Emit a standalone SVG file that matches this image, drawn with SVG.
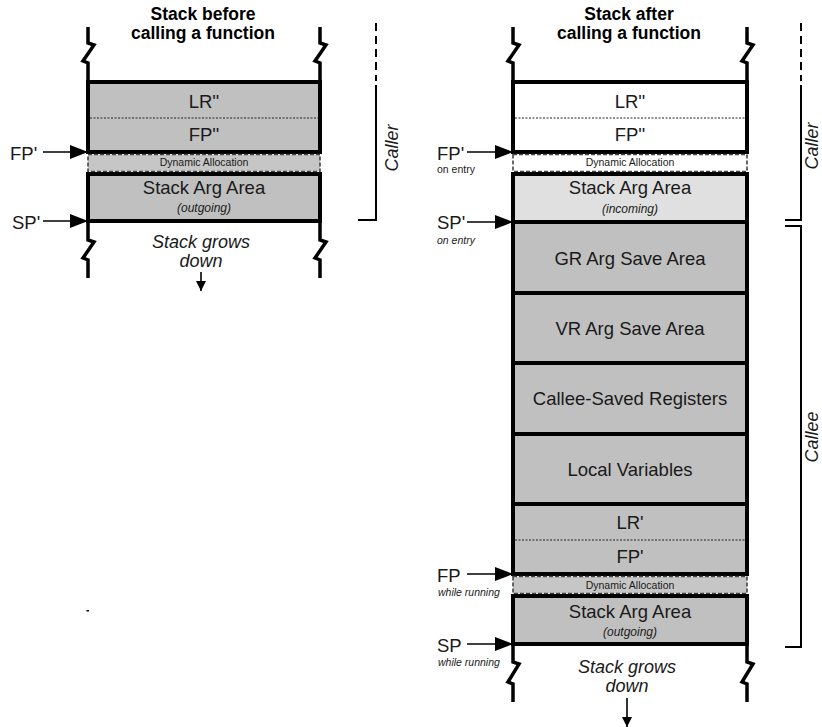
<svg xmlns="http://www.w3.org/2000/svg" width="822" height="727" viewBox="0 0 822 727">
<style>
text{font-family:"Liberation Sans",Arial,sans-serif;fill:#1a1a1a}
.title{font-size:17.5px;font-weight:bold;text-anchor:middle;fill:#000}
.lbl{font-size:18.5px;text-anchor:middle}
.sub{font-size:12px;font-style:italic;text-anchor:middle}
.da{font-size:10.5px;text-anchor:middle}
.ptr{font-size:18.5px}
.note{font-size:10.5px}
.it{font-style:italic}
.grow{font-size:18px;font-style:italic;text-anchor:middle}
.side{font-size:18px;font-style:italic;text-anchor:middle}
.blk{stroke:#000;stroke-width:4}
.g{fill:#c0c0c0}
.lg{fill:#e0e0e0}
.w{fill:#fff}
.dab{stroke:#444;stroke-width:1.6;stroke-dasharray:4 2}
.div{stroke:#222;stroke-width:1;stroke-dasharray:2 1.5;fill:none}
.wall{fill:none;stroke:#000;stroke-width:3.5}
.arr{stroke:#000;stroke-width:1.6;fill:none}
.brk{fill:none;stroke:#000;stroke-width:2}
.dash{stroke-dasharray:8 5}
</style>
<defs>
<marker id="ah" markerUnits="userSpaceOnUse" markerWidth="19" markerHeight="15" refX="18" refY="7" orient="auto">
<path d="M0,0 L18,7 L0,14 z" fill="#000"/>
</marker>
<marker id="dh" markerUnits="userSpaceOnUse" markerWidth="11" markerHeight="11" refX="10" refY="5" orient="auto">
<path d="M0,0 L10,5 L0,10 z" fill="#000"/>
</marker>
</defs>

<!-- LEFT STACK -->
<g id="left-title">
<text class="title" x="203" y="20">Stack before</text>
<text class="title" x="203" y="39">calling a function</text>
</g>
<g id="left-walls">
<path class="wall" d="M88,27 V43 L94,45 L83,61 L88,63 V82"/>
<path class="wall" d="M320,27 V43 L326,45 L315,61 L320,63 V82"/>
<path class="wall" d="M88,221 V240 L94,242 L83,258 L88,260 V278"/>
<path class="wall" d="M320,221 V240 L326,242 L315,258 L320,260 V278"/>
</g>
<g id="left-lr-fp">
<rect class="blk g" x="88" y="82" width="232" height="70"/>
<line class="div" x1="90" y1="118" x2="318" y2="118"/>
<text class="lbl" x="204" y="108">LR''</text>
<text class="lbl" x="204" y="141">FP''</text>
</g>
<g id="left-dyn">
<rect class="dab" fill="#c6c6c6" x="88" y="154.5" width="232" height="17"/>
<text class="da" x="204" y="166">Dynamic Allocation</text>
</g>
<g id="left-argarea">
<rect class="blk g" x="88" y="174" width="232" height="47"/>
<text class="lbl" x="204" y="194">Stack Arg Area</text>
<text class="sub" x="204" y="212">(outgoing)</text>
</g>
<g id="left-grows">
<text class="grow" x="201" y="248">Stack grows</text>
<text class="grow" x="201" y="267">down</text>
</g>
<g id="left-fp">
<text class="ptr" x="10" y="160">FP'</text>
</g>
<g id="left-sp">
<text class="ptr" x="12" y="229">SP'</text>
</g>
<g id="left-caller">
<text class="side" transform="translate(398,148) rotate(-90)">Caller</text>
</g>
<rect x="86.5" y="610" width="2.5" height="1.5" fill="#000"/>

<!-- RIGHT STACK -->
<g id="right-title">
<text class="title" x="629" y="20">Stack after</text>
<text class="title" x="629" y="39">calling a function</text>
</g>
<g id="right-walls">
<path class="wall" d="M513,27 V43 L519,45 L508,61 L513,63 V82"/>
<path class="wall" d="M747,27 V43 L753,45 L742,61 L747,63 V82"/>
<path class="wall" d="M513,644 V662 L519,664 L508,682 L513,684 V702"/>
<path class="wall" d="M747,644 V662 L753,664 L742,682 L747,684 V702"/>
</g>
<g id="right-lr-fp-caller">
<rect class="blk w" x="513" y="82" width="234" height="70"/>
<line class="div" x1="515" y1="118" x2="745" y2="118"/>
<text class="lbl" x="630" y="108">LR''</text>
<text class="lbl" x="630" y="141">FP''</text>
</g>
<g id="right-dyn-caller">
<rect class="dab w" x="513" y="154.5" width="234" height="17"/>
<text class="da" x="630" y="166">Dynamic Allocation</text>
</g>
<g id="right-arg-incoming">
<rect class="blk lg" x="513" y="174" width="234" height="48"/>
<text class="lbl" x="630" y="194">Stack Arg Area</text>
<text class="sub" x="630" y="213">(incoming)</text>
</g>
<g id="gr-save">
<rect class="blk g" x="513" y="222" width="234" height="71"/>
<text class="lbl" x="630" y="264.5">GR Arg Save Area</text>
</g>
<g id="vr-save">
<rect class="blk g" x="513" y="293" width="234" height="70"/>
<text class="lbl" x="630" y="334.5">VR Arg Save Area</text>
</g>
<g id="callee-saved">
<rect class="blk g" x="513" y="363" width="234" height="71"/>
<text class="lbl" x="630" y="405">Callee-Saved Registers</text>
</g>
<g id="local-vars">
<rect class="blk g" x="513" y="434" width="234" height="70"/>
<text class="lbl" x="630" y="475.5">Local Variables</text>
</g>
<g id="right-lr-fp-callee">
<rect class="blk g" x="513" y="504" width="234" height="70"/>
<line class="div" x1="515" y1="540" x2="745" y2="540"/>
<text class="lbl" x="630" y="529">LR'</text>
<text class="lbl" x="630" y="563">FP'</text>
</g>
<g id="right-dyn-callee">
<rect class="dab" fill="#c6c6c6" x="513" y="576.5" width="234" height="17"/>
<text class="da" x="630" y="588.5">Dynamic Allocation</text>
</g>
<g id="right-arg-outgoing">
<rect class="blk g" x="513" y="596" width="234" height="48"/>
<text class="lbl" x="630" y="618">Stack Arg Area</text>
<text class="sub" x="630" y="636">(outgoing)</text>
</g>
<g id="right-grows">
<text class="grow" x="627" y="673">Stack grows</text>
<text class="grow" x="627" y="692">down</text>
</g>
<g id="fp-entry">
<text class="ptr" x="437" y="160">FP'</text>
<text class="note" x="437" y="173">on entry</text>
</g>
<g id="sp-entry">
<text class="ptr" x="437" y="229">SP'</text>
<text class="note it" x="437" y="244">on entry</text>
</g>
<g id="fp-running">
<text class="ptr" x="437" y="582">FP</text>
<text class="note it" x="438" y="596">while running</text>
</g>
<g id="sp-running">
<text class="ptr" x="437" y="652">SP</text>
<text class="note it" x="438" y="666">while running</text>
</g>
<g id="right-caller">
<text class="side" transform="translate(818,146) rotate(-90)">Caller</text>
</g>
<g id="right-callee">
<text class="side" transform="translate(818,437) rotate(-90)">Callee</text>
</g>

<!-- CONNECTORS -->
<g id="connectors">
<line class="arr" x1="43" y1="152" x2="88" y2="152" marker-end="url(#ah)"/>
<line class="arr" x1="43" y1="221" x2="88" y2="221" marker-end="url(#ah)"/>
<line class="arr" x1="201" y1="272" x2="201" y2="291" marker-end="url(#dh)"/>
<line class="arr" x1="467" y1="152" x2="513" y2="152" marker-end="url(#ah)"/>
<line class="arr" x1="467" y1="222" x2="513" y2="222" marker-end="url(#ah)"/>
<line class="arr" x1="467" y1="574" x2="513" y2="574" marker-end="url(#ah)"/>
<line class="arr" x1="467" y1="644" x2="513" y2="644" marker-end="url(#ah)"/>
<line class="arr" x1="627" y1="698" x2="627" y2="727" marker-end="url(#dh)"/>
<line class="brk dash" x1="376" y1="23" x2="376" y2="81"/>
<path class="brk" d="M376,85 V220 H358"/>
<line class="brk dash" x1="801" y1="23" x2="801" y2="81"/>
<path class="brk" d="M801,85 V220 H785"/>
<path class="brk" d="M785,226 H801 V647 H785"/>
</g>
</svg>
